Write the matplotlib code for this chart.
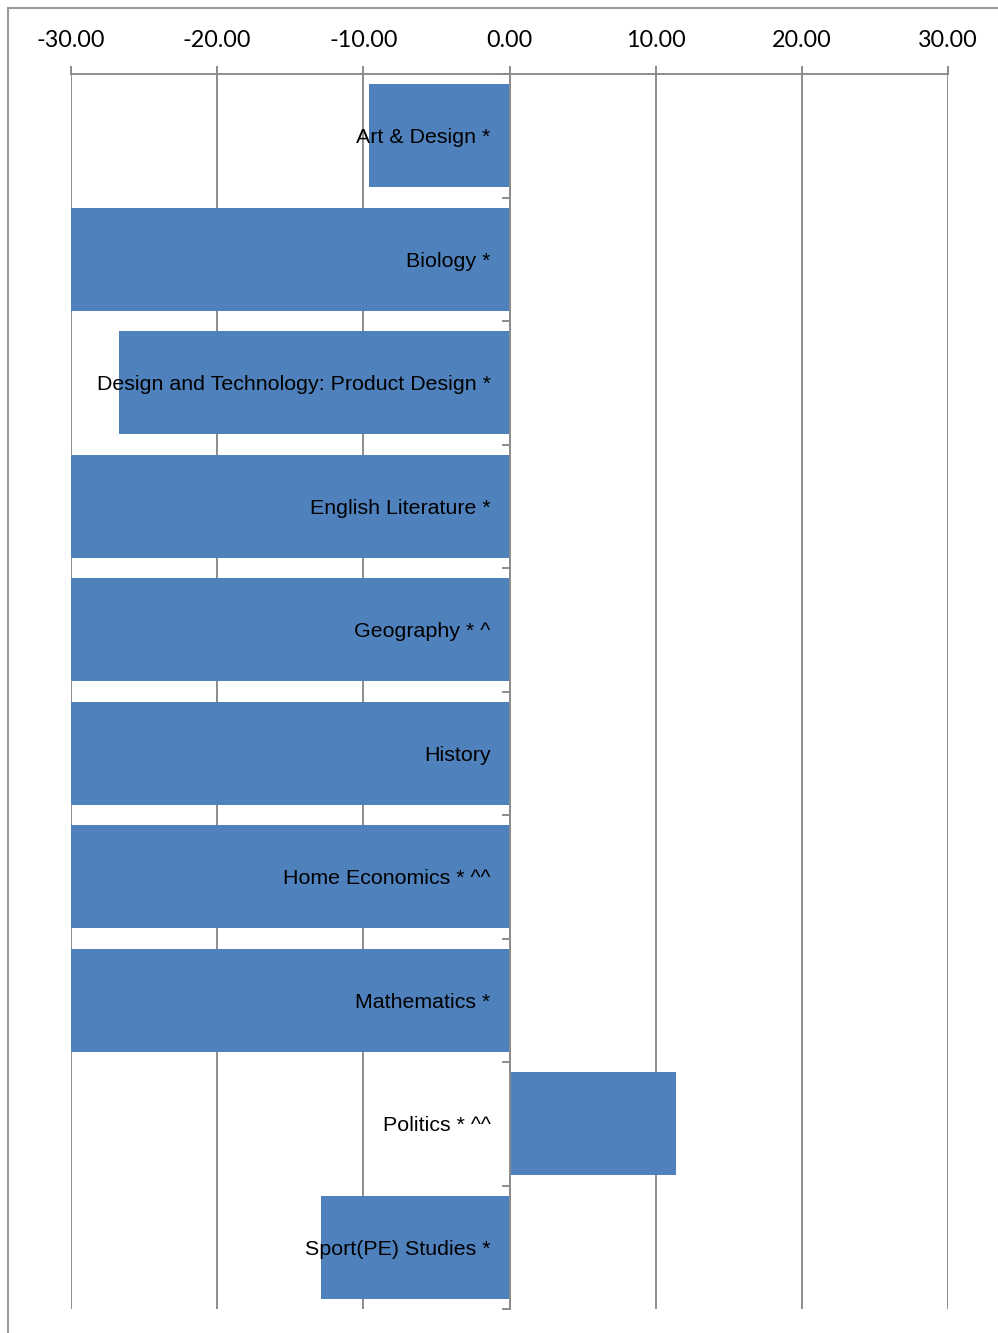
import matplotlib
matplotlib.use("Agg")
import matplotlib.pyplot as plt
from matplotlib.lines import Line2D
import numpy as np

# Subject value-added scores
subjects = [
    "Art & Design *",
    "Biology *",
    "Design and Technology: Product Design *",
    "English Literature *",
    "Geography * ^",
    "History",
    "Home Economics * ^^",
    "Mathematics *",
    "Politics * ^^",
    "Sport(PE) Studies *",
]
scores = [-9.6, -30.0, -26.7, -30.0, -30.0, -30.0, -30.0, -30.0, 11.4, -12.9]
x_ticks = [-30, -20, -10, 0, 10, 20, 30]

bar_color = "#4F81BD"
grid_color = "#8C8C8C"

fig = plt.figure(figsize=(9.98, 13.33), dpi=100)
ax = fig.add_axes([71 / 998, 1 - 1309 / 1333, (948 - 71) / 998, (1309 - 74) / 1333])

y = np.arange(len(subjects))
ax.barh(y, scores, height=0.83, color=bar_color, zorder=2)

ax.set_xlim(-30, 30)
ax.set_ylim(len(subjects) - 0.5, -0.5)

# value axis on top with two-decimal labels
ax.xaxis.tick_top()
ax.set_xticks(x_ticks)
ax.set_xticklabels([f"{v:.2f}" for v in x_ticks], fontsize=16.8, family="Lato")
ax.tick_params(axis="x", length=6, width=1.4, color=grid_color, pad=10.5)
ax.grid(axis="x", color=grid_color, linewidth=1.4, zorder=1)

for s in ["left", "right", "bottom"]:
    ax.spines[s].set_visible(False)
ax.spines["top"].set_color(grid_color)
ax.spines["top"].set_linewidth(1.4)

ax.set_yticks([])

# category axis at zero, with ticks between categories
ax.axvline(0, color=grid_color, linewidth=1.4, zorder=3)
for b in np.arange(len(subjects) + 1) - 0.5:
    ax.plot([-0.42, 0], [b, b], color=grid_color, linewidth=1.4, zorder=3, clip_on=False)

# category labels next to the axis
for yi, name in zip(y, subjects):
    ax.text(-1.3, yi + 0.018, name, ha="right", va="center", fontsize=15.4,
            family="Liberation Sans", color="black", zorder=4)

# chart frame
fig.add_artist(Line2D([7.5 / 998, 1.0], [1 - 7.5 / 1333] * 2, color="#9A9A9A",
                      linewidth=1.5, transform=fig.transFigure))
fig.add_artist(Line2D([7.5 / 998] * 2, [0.0, 1 - 7.5 / 1333], color="#9A9A9A",
                      linewidth=1.5, transform=fig.transFigure))

fig.savefig("out.png", dpi=100, facecolor="white")
